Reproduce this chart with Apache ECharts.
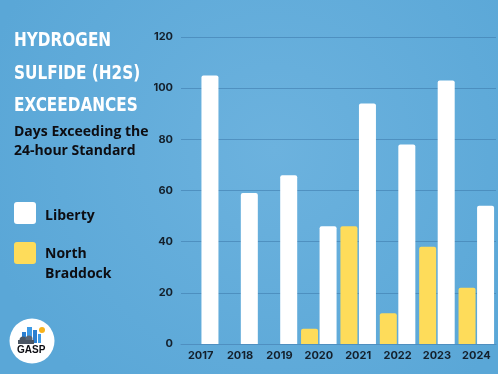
<!DOCTYPE html>
<html><head><meta charset="utf-8">
<style>html,body{margin:0;padding:0;}#c{width:498px;height:374px;}</style>
<script src="https://cdn.jsdelivr.net/npm/echarts@6/dist/echarts.min.js"></script>
</head><body><div id="c"></div>
<script>
const categories = ['2017','2018','2019','2020','2021','2022','2023','2024'];
const liberty = [105, 59, 66, 46, 94, 78, 103, 54];
const northBraddock = [0, 0, 0, 6, 46, 12, 38, 22];
const yTicks = {min: 0, max: 120, interval: 20};
const titleLines = ['HYDROGEN', 'SULFIDE (H2S)', 'EXCEEDANCES'];
const subtitleLines = ['Days Exceeding the', '24-hour Standard'];

const chart = echarts.init(document.getElementById('c'));
const labelFont = 'Inter, "Open Sans", sans-serif';
chart.setOption({
  backgroundColor: {type:'radial', x:0.55, y:0.4, r:0.8, colorStops:[{offset:0,color:'#6cb2de'},{offset:1,color:'#5aa7d7'}]},
  animation: false,
  grid: {left: 181, right: 2, top: 37, bottom: 30},
  xAxis: {
    type: 'category', data: categories,
    axisTick: {show: false},
    axisLine: {lineStyle: {color: '#4f8fc0', width: 1}},
    axisLabel: {color: '#14202c', fontWeight: 'bold', fontSize: 11, fontFamily: labelFont, margin: 6}
  },
  yAxis: {
    type: 'value', min: yTicks.min, max: yTicks.max, interval: yTicks.interval,
    axisLabel: {color: '#14202c', fontWeight: 'bold', fontSize: 11, fontFamily: labelFont, margin: 8},
    splitLine: {lineStyle: {color: 'rgba(60,120,170,0.55)', width: 1}},
    axisLine: {show: false}, axisTick: {show: false}
  },
  series: [
    {name: 'North Braddock', type: 'bar', data: northBraddock, barWidth: 17, barGap: '9%',
     itemStyle: {color: '#fedc5a', borderRadius: [2,2,0,0]}},
    {name: 'Liberty', type: 'bar', data: liberty, barWidth: 17,
     itemStyle: {color: '#ffffff', borderRadius: [2,2,0,0]}}
  ],
  graphic: [
    ...titleLines.map((t, i) => ({type:'text', x: 14, y: 31 + i*32.5, scaleX: 0.85,
      style: {text: t, fill: '#ffffff', font: 'bold 20px "DejaVu Sans Condensed", sans-serif', textVerticalAlign: 'top'}})),
    ...subtitleLines.map((t, i) => ({type:'text', left: 14, top: 125 + i*19,
      style: {text: t, fill: '#0d0d12', font: 'bold 14px "Open Sans", sans-serif'}})),
    {type:'rect', shape:{x:14, y:202, width:22, height:22, r:3}, style:{fill:'#ffffff'}},
    {type:'text', left: 45, top: 209, style:{text:'Liberty', fill:'#0d0d12', font:'bold 14px "Open Sans", sans-serif'}},
    {type:'rect', shape:{x:14, y:242, width:22, height:22, r:3}, style:{fill:'#fedc5a'}},
    {type:'text', left: 45, top: 244, style:{text:'North\nBraddock', fill:'#0d0d12', lineHeight: 20, font:'bold 14px "Open Sans", sans-serif'}},
    {type:'circle', shape:{cx:32, cy:341, r:22.5}, style:{fill:'#ffffff'}},
    {type:'rect', shape:{x:22, y:332, width:4, height:11}, style:{fill:'#2b7fd0'}},
    {type:'rect', shape:{x:27, y:327, width:5, height:16}, style:{fill:'#3d9ae6'}},
    {type:'rect', shape:{x:33, y:330, width:4, height:13}, style:{fill:'#2b7fd0'}},
    {type:'rect', shape:{x:38, y:334, width:3, height:9}, style:{fill:'#3d9ae6'}},
    {type:'circle', shape:{cx:42, cy:330, r:3}, style:{fill:'#f7b21b'}},
    {type:'circle', shape:{cx:23, cy:340, r:3.5}, style:{fill:'#4a5563'}},
    {type:'circle', shape:{cx:29, cy:339, r:3.5}, style:{fill:'#5a6573'}},
    {type:'rect', shape:{x:18, y:340, width:16, height:4}, style:{fill:'#4a5563'}},
    {type:'text', left: 17, top: 345, style:{text:'GASP', fill:'#0d0d12', font:'bold 10px "Liberation Sans", sans-serif'}}
  ]
});
</script></body></html>
